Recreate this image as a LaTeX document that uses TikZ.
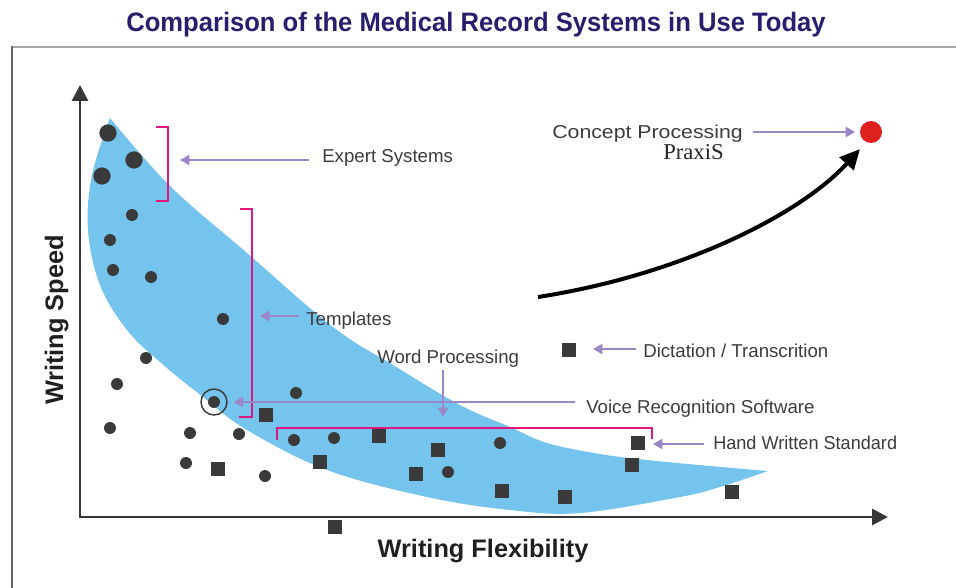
\documentclass[tikz,border=0pt]{standalone}
\usepackage{fontspec}
\setmainfont{Liberation Sans}
\newfontfamily\praxisfont{Liberation Serif}
\usetikzlibrary{arrows.meta}
\definecolor{bandblue}{RGB}{116,196,237}
\definecolor{dotgray}{RGB}{58,58,58}
\definecolor{brmag}{RGB}{226,22,128}
\definecolor{arrpurple}{RGB}{155,135,200}
\definecolor{titlenavy}{RGB}{40,30,110}
\definecolor{txtgray}{RGB}{60,60,60}
\definecolor{axisgray}{RGB}{55,55,55}
\definecolor{redpt}{RGB}{222,32,30}
\begin{document}
\begin{tikzpicture}[x=0.75pt,y=-0.75pt,
  dot/.style={circle,fill=dotgray,inner sep=0pt,minimum size=9pt},
  bigdot/.style={circle,fill=dotgray,inner sep=0pt,minimum size=13pt},
  sq/.style={rectangle,fill=dotgray,inner sep=0pt,minimum size=10.5pt},
  lbl/.style={text=txtgray,font=\fontsize{14}{16}\selectfont,inner sep=0pt,anchor=base west},
  bracket/.style={draw=brmag,line width=2.2pt},
  parrow/.style={draw=arrpurple,line width=2.2pt,-{Triangle[length=7pt,width=7.5pt]}},
  axisline/.style={draw=axisgray,line width=2.2pt,{Triangle[length=12pt,width=12pt]}-{Triangle[length=12pt,width=12pt]}},
  axlbl/.style={text=black!88,font=\fontsize{19}{22}\selectfont\bfseries,inner sep=0pt,anchor=base}]

\useasboundingbox (0,0) rectangle (956,588);

% frame
\draw[draw=black!35,line width=2.2pt] (12,47) -- (956,47);
\draw[draw=black!60,line width=1pt] (12,46) -- (12,588);

% title
\node[text=titlenavy,font=\fontsize{20}{24}\selectfont\bfseries,inner sep=0pt,anchor=base,xscale=0.96] (title) at (476,32) {Comparison of the Medical Record Systems in Use Today};

% band
\fill[bandblue] plot[smooth,tension=0.6] coordinates {(110,118) (170,186) (247,253) (333,327) (393,365) (460,405) (510,427) (547,443) (600,454) (647,460) (710,466) (768,471)}
  -- plot[smooth,tension=0.6] coordinates {(768,471) (720,487) (680,497) (580,513) (510,510) (427,497) (327,470) (247,430) (203,397) (160,362) (127,330) (100,285) (88,230) (92,175) (110,118)} -- cycle;

% brackets
\coordinate (es1) at (156,127); \coordinate (es2) at (168,127);
\coordinate (es3) at (168,201); \coordinate (es4) at (156,201);
\draw[bracket] (es1) -- (es2) -- (es3) -- (es4);
\coordinate (tp1) at (240,209); \coordinate (tp2) at (252,209);
\coordinate (tp3) at (252,417); \coordinate (tp4) at (239,417);
\draw[bracket] (tp1) -- (tp2) -- (tp3) -- (tp4);
\coordinate (hw1) at (277,440); \coordinate (hw2) at (277,428);
\coordinate (hw3) at (652,428); \coordinate (hw4) at (652,439);
\draw[bracket] (hw1) -- (hw2) -- (hw3) -- (hw4);

% axes
\coordinate (ytip) at (80,85);
\coordinate (origin) at (80,517);
\coordinate (xtip) at (888,517);
\draw[axisline] (ytip) -- (origin) -- (xtip);

% big dots
\node[bigdot] (b1) at (108,133) {};
\node[bigdot] (b2) at (134,160) {};
\node[bigdot] (b3) at (102,176) {};
% small dots
\node[dot] (d1) at (132,215) {};
\node[dot] (d2) at (110,240) {};
\node[dot] (d3) at (113,270) {};
\node[dot] (d4) at (151,277) {};
\node[dot] (d5) at (223,319) {};
\node[dot] (d6) at (146,358) {};
\node[dot] (d7) at (117,384) {};
\node[dot] (d8) at (110,428) {};
\node[dot] (d9) at (190,433) {};
\node[dot] (d10) at (239,434) {};
\node[dot] (d11) at (186,463) {};
\node[dot] (d12) at (265,476) {};
\node[dot] (d13) at (296,393) {};
\node[dot] (d14) at (294,440) {};
\node[dot] (d15) at (334,438) {};
\node[dot] (d16) at (500,443) {};
\node[dot] (d17) at (448,472) {};
\node[dot] (vdot) at (214,402) {};
\node[circle,draw=dotgray,line width=1.1pt,inner sep=0pt,minimum size=19.5pt] (vc) at (214,402) {};
% squares
\node[sq] (s1) at (266,415) {};
\node[sq] (s2) at (218,469) {};
\node[sq] (s3) at (320,462) {};
\node[sq] (s4) at (379,436) {};
\node[sq] (s5) at (438,450) {};
\node[sq] (s6) at (416,474) {};
\node[sq] (s7) at (502,491) {};
\node[sq] (s8) at (335,527) {};
\node[sq] (s9) at (569,350) {};
\node[sq] (s10) at (638,443) {};
\node[sq] (s11) at (632,465) {};
\node[sq] (s12) at (565,497) {};
\node[sq] (s13) at (732,492) {};

% red point
\node[circle,fill=redpt,inner sep=0pt,minimum size=16.5pt] (cp) at (871,132) {};

% labels
\node[lbl] (es) at (322,162) {Expert Systems};
\node[lbl] (tp) at (306,325) {Templates};
\node[lbl] (wp) at (377,363) {Word Processing};
\node[lbl] (vr) at (586,413) {Voice Recognition Software};
\node[lbl] (dt) at (643,357) {Dictation / Transcrition};
\node[lbl,xscale=0.97] (hw) at (713,449) {Hand Written Standard};
\node[lbl,xscale=1.14] (cpl) at (552,139) {Concept Processing};
\node[text=black!85,font=\praxisfont\fontsize{17}{20}\selectfont,inner sep=0pt,anchor=base west] (px) at (663,160) {PraxiS};
\node[axlbl,rotate=90] (ylbl) at (63,320) {Writing Speed};
\node[axlbl] (xlbl) at (483,557) {Writing Flexibility};

% purple arrows
\coordinate (esT) at (180,160);
\coordinate (tpT) at (260,316);
\coordinate (wpT) at (443,417);
\coordinate (dtT) at (593,349);
\coordinate (hwT) at (653,444);
\draw[parrow,shorten <=10pt] (es.west |- esT) -- (esT);
\draw[parrow,shorten <=5pt] (tp.west |- tpT) -- (tpT);
\draw[parrow,shorten <=2.5pt] (wpT |- wp.south) -- (wpT);
\draw[parrow,shorten <=8pt,shorten >=4.5pt] (vr.west |- vc.east) -- (vc.east);
\draw[parrow,shorten <=5pt] (dt.west |- dtT) -- (dtT);
\draw[parrow,shorten <=7pt] (hw.west |- hwT) -- (hwT);
\draw[parrow,shorten <=7.5pt,shorten >=3.5pt] (cpl.east |- cp.west) -- (cp.west);

% black curved arrow
\coordinate (bstart) at (538,297);
\draw[black,line width=3pt,-{Triangle[length=15pt,width=14pt]},shorten >=7pt] (bstart) .. controls (680,275) and (800,215) .. (cp.245);
\end{tikzpicture}
\end{document}
